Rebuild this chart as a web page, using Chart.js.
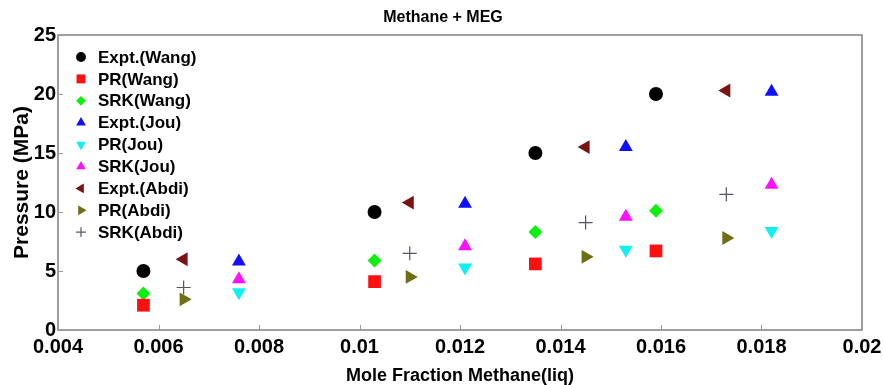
<!DOCTYPE html>
<html>
<head>
<meta charset="utf-8">
<script src="https://cdn.jsdelivr.net/npm/chart.js@4.4.0/dist/chart.umd.min.js"></script>
<style>
  html, body { margin: 0; padding: 0; background: #fff; }
  #wrap { width: 883px; height: 385px; }
</style>
</head>
<body>
<div id="wrap"><canvas id="chart" width="883" height="385"></canvas></div>
<script>
// Methane + MEG -- pressure vs mole fraction

var xTicks = [0.004, 0.006, 0.008, 0.01, 0.012, 0.014, 0.016, 0.018, 0.02];
var yTicks = [0, 5, 10, 15, 20, 25];

var xWang = [0.0057, 0.0103, 0.0135, 0.0159];
var exptWang = [5.0, 10.0, 15.0, 20.0];
var prWang = [2.1, 4.1, 5.6, 6.7];
var srkWang = [3.1, 5.9, 8.3, 10.1];

var xJou = [0.0076, 0.0121, 0.0153, 0.0182];
var exptJou = [5.8, 10.7, 15.5, 20.2];
var prJou = [3.2, 5.3, 6.8, 8.4];
var srkJou = [4.3, 7.1, 9.6, 12.3];

var xAbdi = [0.0065, 0.0110, 0.0145, 0.0173];
var exptAbdi = [6.0, 10.8, 15.5, 20.3];
var prAbdi = [2.6, 4.5, 6.2, 7.8];
var srkAbdi = [3.6, 6.5, 9.1, 11.5];

var FONT = "'Liberation Sans', Arial, sans-serif";

function pts(xs, ys) {
    var out = [];
    for (var i = 0; i < xs.length; i++) out.push({x: xs[i], y: ys[i]});
    return out;
}

// label, x, y, color, pointStyle, radius, rotation
var series = [
    ['Expt.(Wang)', xWang, exptWang, '#000000', 'circle', 7, 0],
    ['PR(Wang)', xWang, prWang, '#ff1010', 'rect', 9, 0],
    ['SRK(Wang)', xWang, srkWang, '#10f010', 'rectRot', 7, 0],
    ['Expt.(Jou)', xJou, exptJou, '#1010ff', 'triangle', 8, 0],
    ['PR(Jou)', xJou, prJou, '#10f0f0', 'triangle', 8, 180],
    ['SRK(Jou)', xJou, srkJou, '#ff10ff', 'triangle', 8, 0],
    ['Expt.(Abdi)', xAbdi, exptAbdi, '#7a1414', 'triangle', 8, -90],
    ['PR(Abdi)', xAbdi, prAbdi, '#6e6e14', 'triangle', 8, 90],
    ['SRK(Abdi)', xAbdi, srkAbdi, '#556', 'cross', 7, 0]
];

var datasets = series.map(function(s) {
    return {
        label: s[0],
        data: pts(s[1], s[2]),
        backgroundColor: s[3],
        borderColor: s[3],
        pointStyle: s[4],
        pointRadius: s[5],
        pointRotation: s[6],
        pointBorderWidth: s[4] === 'cross' ? 1.2 : 0,
        pointHoverRadius: s[5]
    };
});

// frame, inward ticks, title and legend drawn on the canvas
var decorPlugin = {
    id: 'decor',
    afterDraw: function(chart) {
        var ctx = chart.ctx;
        var a = chart.chartArea;
        var xs = chart.scales.x, ys = chart.scales.y;
        ctx.save();
        ctx.strokeStyle = '#808080';
        ctx.lineWidth = 1.5;
        ctx.strokeRect(a.left, a.top, a.right - a.left, a.bottom - a.top);
        ctx.lineWidth = 1;
        ctx.strokeStyle = '#999';
        ctx.beginPath();
        xTicks.forEach(function(v) {
            var px = Math.round(xs.getPixelForValue(v)) + 0.5;
            ctx.moveTo(px, a.bottom); ctx.lineTo(px, a.bottom - 5);
        });
        yTicks.forEach(function(v) {
            var py = Math.round(ys.getPixelForValue(v)) + 0.5;
            ctx.moveTo(a.left, py); ctx.lineTo(a.left + 5, py);
        });
        ctx.stroke();

        // title
        ctx.fillStyle = '#000';
        ctx.textAlign = 'center';
        ctx.textBaseline = 'middle';
        ctx.font = "bold 20px 'Liberation Sans Narrow'";
        if (ctx.measureText('Methane + MEG').width > 140) ctx.font = 'bold 16px ' + FONT;
        ctx.fillText('Methane + MEG', 443, 18);

        // legend
        ctx.textAlign = 'left';
        ctx.font = 'bold 17px ' + FONT;
        chart.data.datasets.forEach(function(ds, i) {
            var y = 57 + i * 21.9;
            ctx.fillStyle = ds.backgroundColor;
            ctx.strokeStyle = ds.borderColor;
            ctx.lineWidth = ds.pointBorderWidth || 1;
            Chart.helpers.drawPoint(ctx, {
                pointStyle: ds.pointStyle,
                radius: ds.pointRadius * 0.7,
                rotation: ds.pointRotation,
                borderWidth: ds.pointBorderWidth
            }, 81, y);
            ctx.fillStyle = '#000';
            ctx.fillText(ds.label, 98, y + 1);
        });
        ctx.restore();
    }
};

new Chart(document.getElementById('chart').getContext('2d'), {
    type: 'scatter',
    data: { datasets: datasets },
    plugins: [decorPlugin],
    options: {
        responsive: false,
        animation: false,
        layout: { padding: { top: 35, right: 21, left: 0, bottom: 0 } },
        plugins: {
            legend: { display: false },
            title: { display: false },
            tooltip: { enabled: false }
        },
        scales: {
            x: {
                type: 'linear',
                min: 0.004,
                max: 0.02,
                afterBuildTicks: function(scale) {
                    scale.ticks = xTicks.map(function(v) { return {value: v}; });
                },
                afterFit: function(scale) {
                    scale.height = 55;
                    scale.paddingLeft = 0;
                    scale.paddingRight = 0;
                },
                grid: { display: false, drawTicks: false },
                border: { display: false },
                ticks: {
                    padding: 5,
                    maxRotation: 0,
                    color: '#000',
                    font: { family: FONT, size: 20, weight: 'bold' },
                    callback: function(v) { return String(+v.toFixed(3)); }
                },
                title: {
                    display: true,
                    text: 'Mole Fraction Methane(liq)',
                    color: '#000',
                    font: { family: FONT, size: 18, weight: 'bold', lineHeight: 1 },
                    padding: { top: 0, bottom: 0 }
                }
            },
            y: {
                type: 'linear',
                min: 0,
                max: 25,
                afterBuildTicks: function(scale) {
                    scale.ticks = yTicks.map(function(v) { return {value: v}; });
                },
                afterFit: function(scale) {
                    scale.width = 58;
                    scale.paddingTop = 0;
                    scale.paddingBottom = 0;
                },
                grid: { display: false, drawTicks: false },
                border: { display: false },
                ticks: {
                    padding: 2,
                    color: '#000',
                    font: { family: FONT, size: 20, weight: 'bold' }
                },
                title: {
                    display: true,
                    text: 'Pressure (MPa)',
                    color: '#000',
                    font: { family: FONT, size: 21, weight: 'bold', lineHeight: 1 },
                    padding: { top: 12, bottom: 0 }
                }
            }
        }
    }
});
</script>
</body>
</html>
